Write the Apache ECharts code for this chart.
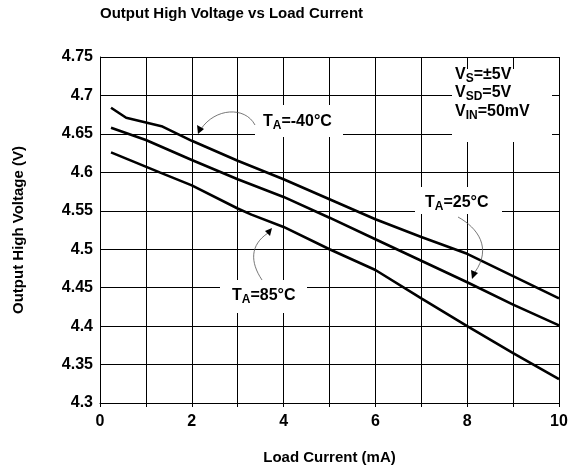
<!DOCTYPE html>
<html>
<head>
<meta charset="utf-8">
<script src="https://cdn.jsdelivr.net/npm/echarts@6/dist/echarts.min.js"></script>
<style>
    html, body { margin: 0; padding: 0; background: #fff; }
    #chart { width: 576px; height: 474px; }
</style>
</head>
<body>
<div id="chart"></div>
<script>
    var FONT = 'Liberation Sans, Arial, sans-serif';

    // curves: [load current mA, output high voltage V]
    var seriesNames = ['TA=-40°C', 'TA=25°C', 'TA=85°C'];
    var dataMinus40 = [[0.24, 4.684], [0.57, 4.671], [1.34, 4.660], [2, 4.641], [3, 4.615], [4, 4.591],
        [5, 4.565], [6, 4.539], [7, 4.516], [8, 4.494], [9, 4.465], [10, 4.436]];
    var data25 = [[0.24, 4.658], [1, 4.642], [2, 4.616], [3, 4.591], [4, 4.568], [5, 4.541],
        [6, 4.513], [7, 4.485], [8, 4.457], [9, 4.428], [10, 4.401]];
    var data85 = [[0.24, 4.626], [1.3, 4.600], [2, 4.583], [3, 4.553], [3.3, 4.545], [4, 4.529],
        [5, 4.500], [6, 4.473], [7, 4.436], [8, 4.400], [9, 4.365], [10, 4.331]];

    var xTicks = [0, 2, 4, 6, 8, 10];
    var yTicks = ['4.3', '4.35', '4.4', '4.45', '4.5', '4.55', '4.6', '4.65', '4.7', '4.75'];

    var rich = {
        b: { fontFamily: FONT, fontWeight: 'bold', fontSize: 16, color: '#000', lineHeight: 20, verticalAlign: 'middle' },
        s: { fontFamily: FONT, fontWeight: 'bold', fontSize: 12, color: '#000', lineHeight: 20, verticalAlign: 'bottom' }
    };

    function makeSeries(name, data) {
        return {
            name: name,
            type: 'line',
            data: data,
            symbol: 'none',
            lineStyle: { color: '#000', width: 2.6 },
            z: 3
        };
    }

    function whiteBox(x, y, w, h) {
        return { type: 'rect', shape: { x: x, y: y, width: w, height: h }, style: { fill: '#fff' }, z: 1, silent: true };
    }

    function label(x, y, text) {
        return { type: 'text', x: x, y: y, style: { text: text, rich: rich }, z: 5 };
    }

    function arrow(curve, head) {
        return [
            { type: 'bezierCurve', shape: curve, style: { stroke: '#555', lineWidth: 0.8, fill: null }, z: 5 },
            { type: 'polygon', shape: { points: head }, style: { fill: '#000' }, z: 5 }
        ];
    }

    var chart = echarts.init(document.getElementById('chart'));

    var option = {
        animation: false,
        backgroundColor: '#fff',
        title: {
            text: 'Output High Voltage vs Load Current',
            left: 95,
            top: 1,
            textStyle: { fontFamily: FONT, fontWeight: 'bold', fontSize: 15, color: '#000' }
        },
        grid: { left: 100, right: 17, top: 57, bottom: 71 },
        xAxis: {
            type: 'value',
            min: 0,
            max: 10,
            interval: 1,
            name: 'Load Current (mA)',
            nameLocation: 'middle',
            nameGap: 47,
            nameTextStyle: { fontFamily: FONT, fontWeight: 'bold', fontSize: 15, color: '#000' },
            axisLine: { lineStyle: { color: '#000', width: 1 } },
            axisTick: { show: true, length: 4, lineStyle: { color: '#000' } },
            axisLabel: {
                margin: 11,
                fontFamily: FONT, fontWeight: 'bold', fontSize: 16, color: '#000',
                formatter: function (v) { return xTicks.indexOf(v) >= 0 ? String(v) : ''; }
            },
            splitLine: { show: true, lineStyle: { color: '#000', width: 1 } }
        },
        yAxis: {
            type: 'value',
            min: 4.3,
            max: 4.75,
            interval: 0.05,
            name: 'Output High Voltage (V)',
            nameLocation: 'middle',
            nameGap: 74,
            nameTextStyle: { fontFamily: FONT, fontWeight: 'bold', fontSize: 15, color: '#000' },
            axisLine: { show: true, lineStyle: { color: '#000', width: 1 } },
            axisTick: { show: false },
            axisLabel: {
                margin: 7,
                fontFamily: FONT, fontWeight: 'bold', fontSize: 16, color: '#000',
                formatter: function (v) {
                    var i = Math.round((v - 4.3) / 0.05);
                    return yTicks[i] || '';
                }
            },
            splitLine: { show: true, lineStyle: { color: '#000', width: 1 } }
        },
        series: [
            makeSeries(seriesNames[0], dataMinus40),
            makeSeries(seriesNames[1], data25),
            makeSeries(seriesNames[2], data85)
        ],
        graphic: [].concat(
            [
                whiteBox(255, 105, 88, 32),
                whiteBox(415, 187, 87, 27),
                whiteBox(220, 280, 87, 33),
                whiteBox(452, 69, 100, 73),
                label(263, 112, '{b|T}{s|A}{b|=-40°C}'),
                label(425, 193, '{b|T}{s|A}{b|=25°C}'),
                label(232, 286, '{b|T}{s|A}{b|=85°C}'),
                label(455, 65, '{b|V}{s|S}{b|=±5V}'),
                label(455, 83, '{b|V}{s|SD}{b|=5V}'),
                label(455, 102, '{b|V}{s|IN}{b|=50mV}')
            ],
            arrow({ x1: 255, y1: 125, cpx1: 245, cpy1: 106, cpx2: 215, cpy2: 108, x2: 201, y2: 129 },
                [[198, 134], [197, 125], [204, 129]]),
            arrow({ x1: 458, y1: 217, cpx1: 478, cpy1: 228, cpx2: 492, cpy2: 248, x2: 475, y2: 272 },
                [[472, 279], [471, 270], [478, 273]]),
            arrow({ x1: 262, y1: 280, cpx1: 250, cpy1: 262, cpx2: 250, cpy2: 245, x2: 268, y2: 233 },
                [[272, 228], [265, 231], [270, 236]])
        )
    };

    chart.setOption(option);
</script>
</body>
</html>
